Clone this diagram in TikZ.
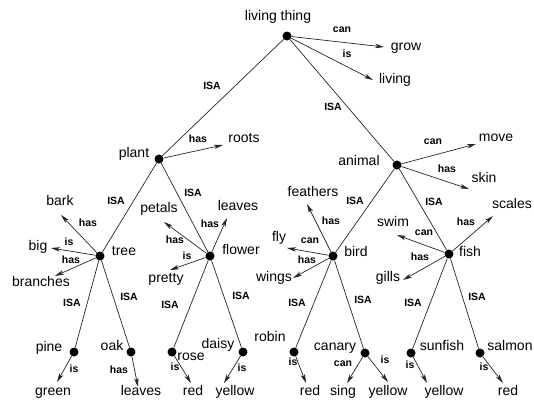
\documentclass[tikz,border=0pt]{standalone}
\usepackage{fontspec}
\setmainfont{Liberation Sans}
\usetikzlibrary{arrows.meta}
\tikzset{
  blob/.style={circle, fill=black, minimum size=9pt, inner sep=0pt},
  word/.style={anchor=base, inner sep=0pt, font=\fontsize{14}{16}\selectfont},
  rel/.style={inner sep=0pt, font=\fontsize{10.5}{12}\selectfont\bfseries},
  isa/.style={line width=0.7pt, black!85},
  arr/.style={line width=0.7pt, black!85, -{Stealth[length=9pt,width=4.5pt,inset=2.5pt]}}
}
\begin{document}
\begin{tikzpicture}[x=1pt,y=-1pt]
			%%%%% START %%%%%
			\useasboundingbox (0,0) rectangle (534,405);

			% dots
			\node[blob] (lt) at (287,36) {};
			\node[blob] (plant) at (159,159) {};
			\node[blob] (animal) at (397,165) {};
			\node[blob] (tree) at (100,256) {};
			\node[blob] (flower) at (210,256) {};
			\node[blob] (bird) at (333,256) {};
			\node[blob] (fish) at (449,254) {};
			\node[blob] (pine) at (74,352) {};
			\node[blob] (oak) at (131,352) {};
			\node[blob] (rose) at (172,352) {};
			\node[blob] (daisy) at (243,352) {};
			\node[blob] (robin) at (294,352) {};
			\node[blob] (canary) at (365,353) {};
			\node[blob] (sunfish) at (411,353) {};
			\node[blob] (salmon) at (480,353) {};

			% names of the concepts
			\node[word] (wLt) at (278,20) {living thing};
			\node[word] (wPlant) at (134,157) {plant};
			\node[word] (wAnimal) at (359,165) {animal};
			\node[word] (wTree) at (124,255) {tree};
			\node[word] (wFlower) at (241,254) {flower};
			\node[word] (wBird) at (356,256) {bird};
			\node[word] (wFish) at (470,256) {fish};
			\node[word] (wPine) at (49,351) {pine};
			\node[word] (wOak) at (112,350) {oak};
			\node[word] (wRose) at (191,360) {rose};
			\node[word] (wDaisy) at (218,348) {daisy};
			\node[word] (wRobin) at (270,341) {robin};
			\node[word] (wCanary) at (335,350) {canary};
			\node[word] (wSunfish) at (442,350) {sunfish};
			\node[word] (wSalmon) at (510,350) {salmon};

			% properties
			\node[word] (wGrow) at (406,50) {grow};
			\node[word] (wLiving) at (395,83) {living};
			\node[word] (wRoots) at (244,142) {roots};
			\node[word] (wMove) at (496,141) {move};
			\node[word] (wSkin) at (484,182) {skin};
			\node[word] (wBark) at (60,205) {bark};
			\node[word] (wBig) at (38,250) {big};
			\node[word] (wBranches) at (41,286) {branches};
			\node[word] (wPetals) at (159,212) {petals};
			\node[word] (wLeavesF) at (238,210) {leaves};
			\node[word] (wPretty) at (166,282) {pretty};
			\node[word] (wFeathers) at (313,196) {feathers};
			\node[word] (wFly) at (279,241) {fly};
			\node[word] (wWings) at (274,281) {wings};
			\node[word] (wScales) at (512,208) {scales};
			\node[word] (wSwim) at (393,226) {swim};
			\node[word] (wGills) at (388,281) {gills};
			\node[word] (wGreen) at (53,395) {green};
			\node[word] (wLeavesO) at (141,395) {leaves};
			\node[word] (wRedRose) at (193,395) {red};
			\node[word] (wYellowDaisy) at (235,395) {yellow};
			\node[word] (wRedRobin) at (310,395) {red};
			\node[word] (wSing) at (343,395) {sing};
			\node[word] (wYellowCanary) at (388,395) {yellow};
			\node[word] (wYellowSunfish) at (444,395) {yellow};
			\node[word] (wRedSalmon) at (508,395) {red};

			% arrow tips
			\coordinate (tGrow) at (384,47);
			\coordinate (tLiving) at (373,80);
			\coordinate (tRoots) at (223,145);
			\coordinate (tMove) at (476,144);
			\coordinate (tSkin) at (469,189);
			\coordinate (tBark) at (61,215);
			\coordinate (tBig) at (51,248);
			\coordinate (tBranches) at (55,276);
			\coordinate (tPetals) at (164,222);
			\coordinate (tLeavesF) at (227,218);
			\coordinate (tPretty) at (170,270);
			\coordinate (tFeathers) at (307,204);
			\coordinate (tFly) at (287,248);
			\coordinate (tWings) at (293,278);
			\coordinate (tScales) at (493,216);
			\coordinate (tSwim) at (397,235);
			\coordinate (tGills) at (403,280);
			\coordinate (tGreen) at (57,382);
			\coordinate (tLeavesO) at (138,387);
			\coordinate (tRedRose) at (191,383);
			\coordinate (tYellowDaisy) at (224,383);
			\coordinate (tRedRobin) at (306,383);
			\coordinate (tSing) at (347,383);
			\coordinate (tYellowCanary) at (388,382);
			\coordinate (tYellowSunfish) at (427,383);
			\coordinate (tRedSalmon) at (503,383);

			% ISA links
			\draw[isa] (lt) -- (plant);
			\draw[isa] (lt) -- (animal);
			\draw[isa] (plant) -- (tree);
			\draw[isa] (plant) -- (flower);
			\draw[isa] (animal) -- (bird);
			\draw[isa] (animal) -- (fish);
			\draw[isa] (tree) -- (pine);
			\draw[isa] (tree) -- (oak);
			\draw[isa] (flower) -- (rose);
			\draw[isa] (flower) -- (daisy);
			\draw[isa] (bird) -- (robin);
			\draw[isa] (bird) -- (canary);
			\draw[isa] (fish) -- (sunfish);
			\draw[isa] (fish) -- (salmon);

			% property arrows
			\draw[arr] (lt) -- (tGrow);
			\draw[arr] (lt) -- (tLiving);
			\draw[arr] (plant) -- (tRoots);
			\draw[arr] (animal) -- (tMove);
			\draw[arr] (animal) -- (tSkin);
			\draw[arr] (tree) -- (tBark);
			\draw[arr] (tree) -- (tBig);
			\draw[arr] (tree) -- (tBranches);
			\draw[arr] (flower) -- (tPetals);
			\draw[arr] (flower) -- (tLeavesF);
			\draw[arr] (flower) -- (tPretty);
			\draw[arr] (bird) -- (tFeathers);
			\draw[arr] (bird) -- (tFly);
			\draw[arr] (bird) -- (tWings);
			\draw[arr] (fish) -- (tScales);
			\draw[arr] (fish) -- (tSwim);
			\draw[arr] (fish) -- (tGills);
			\draw[arr] (pine) -- (tGreen);
			\draw[arr] (oak) -- (tLeavesO);
			\draw[arr] (rose) -- (tRedRose);
			\draw[arr] (daisy) -- (tYellowDaisy);
			\draw[arr] (robin) -- (tRedRobin);
			\draw[arr] (canary) -- (tSing);
			\draw[arr] (canary) -- (tYellowCanary);
			\draw[arr] (sunfish) -- (tYellowSunfish);
			\draw[arr] (salmon) -- (tRedSalmon);

			% link labels
			\node[rel] (rIsaPlant) at (212,86) {ISA};
			\node[rel] (rIsaAnimal) at (333,107) {ISA};
			\node[rel] (rIsaTree) at (116,201) {ISA};
			\node[rel] (rIsaFlower) at (193,193) {ISA};
			\node[rel] (rIsaBird) at (355,201) {ISA};
			\node[rel] (rIsaFish) at (434,202) {ISA};
			\node[rel] (rIsaPine) at (72,303) {ISA};
			\node[rel] (rIsaOak) at (129,297) {ISA};
			\node[rel] (rIsaRose) at (170,305) {ISA};
			\node[rel] (rIsaDaisy) at (241,296) {ISA};
			\node[rel] (rIsaRobin) at (297,303) {ISA};
			\node[rel] (rIsaCanary) at (363,300) {ISA};
			\node[rel] (rIsaSunfish) at (413,303) {ISA};
			\node[rel] (rIsaSalmon) at (477,297) {ISA};
			\node[rel] (rGrow) at (342,30) {can};
			\node[rel] (rLiving) at (347,54) {is};
			\node[rel] (rRoots) at (198,139) {has};
			\node[rel] (rMove) at (433,142) {can};
			\node[rel] (rSkin) at (447,169) {has};
			\node[rel] (rBark) at (88,223) {has};
			\node[rel] (rBig) at (69,242) {is};
			\node[rel] (rBranches) at (71,260) {has};
			\node[rel] (rPetals) at (175,240) {has};
			\node[rel] (rLeavesF) at (210,224) {has};
			\node[rel] (rPretty) at (187,256) {is};
			\node[rel] (rFeathers) at (331,221) {has};
			\node[rel] (rFly) at (310,241) {can};
			\node[rel] (rWings) at (307,260) {has};
			\node[rel] (rScales) at (466,222) {has};
			\node[rel] (rSwim) at (424,233) {can};
			\node[rel] (rGills) at (420,257) {has};
			\node[rel] (rGreen) at (74,369) {is};
			\node[rel] (rLeavesO) at (119,370) {has};
			\node[rel] (rRedRose) at (175,367) {is};
			\node[rel] (rYellowDaisy) at (242,368) {is};
			\node[rel] (rRedRobin) at (293,362) {is};
			\node[rel] (rSing) at (343,364) {can};
			\node[rel] (rYellowCanary) at (385,360) {is};
			\node[rel] (rYellowSunfish) at (410,365) {is};
			\node[rel] (rRedSalmon) at (484,367) {is};
			%%%%% END %%%%%
\end{tikzpicture}
\end{document}
